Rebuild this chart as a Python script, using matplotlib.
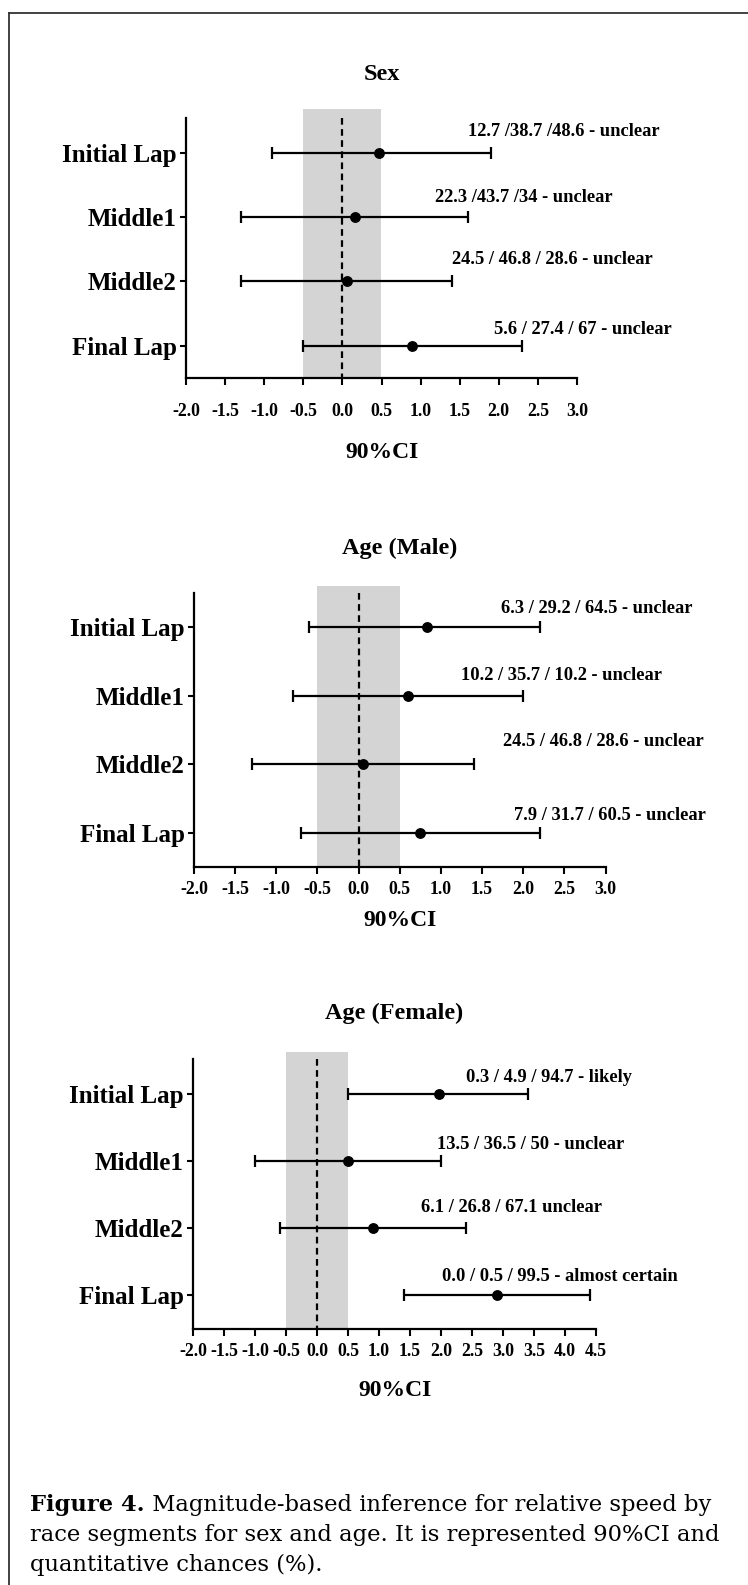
import matplotlib
matplotlib.use('Agg')
import matplotlib.pyplot as plt
from matplotlib.lines import Line2D

###############################################################################
# Data
###############################################################################

segments = ['Initial Lap', 'Middle1', 'Middle2', 'Final Lap']

sex_mean = [0.47, 0.16, 0.06, 0.89]
sex_low = [-0.9, -1.3, -1.3, -0.5]
sex_high = [1.9, 1.6, 1.4, 2.3]
sex_chances = ['12.7 /38.7 /48.6 - unclear', '22.3 /43.7 /34 - unclear',
               '24.5 / 46.8 / 28.6 - unclear', '5.6 / 27.4 / 67 - unclear']

male_mean = [0.83, 0.6, 0.05, 0.74]
male_low = [-0.6, -0.8, -1.3, -0.7]
male_high = [2.2, 2.0, 1.4, 2.2]
male_chances = ['6.3 / 29.2 / 64.5 - unclear', '10.2 / 35.7 / 10.2 - unclear',
                '24.5 / 46.8 / 28.6 - unclear', '7.9 / 31.7 / 60.5 - unclear']

female_mean = [1.96, 0.5, 0.9, 2.9]
female_low = [0.5, -1.0, -0.6, 1.4]
female_high = [3.4, 2.0, 2.4, 4.4]
female_chances = ['0.3 / 4.9 / 94.7 - likely', '13.5 / 36.5 / 50 - unclear',
                  '6.1 / 26.8 / 67.1 unclear', '0.0 / 0.5 / 99.5 - almost certain']

ticks_to3 = ['-2.0', '-1.5', '-1.0', '-0.5', '0.0', '0.5', '1.0', '1.5',
             '2.0', '2.5', '3.0']
ticks_to45 = ticks_to3 + ['3.5', '4.0', '4.5']

caption_bold = 'Figure 4.'
caption_lines = [' Magnitude-based inference for relative speed by',
                 'race segments for sex and age. It is represented 90%CI and',
                 'quantitative chances (%).']

###############################################################################
# Layout (pixels in the 748 x 1585 output)
###############################################################################

W, H = 748, 1585
plt.rcParams['font.family'] = 'Liberation Serif'


def fx(px):
    return px / W


def fy(py):
    return 1 - py / H


panels = [
    dict(title='Sex', mean=sex_mean, low=sex_low, high=sex_high,
         chances=sex_chances, ticks=ticks_to3,
         x0=186, x1=577, bottom=378, top=109, ytop=-0.68, spine_top=-0.54,
         title_y=75, xlabel_y=453, tick_pad=13,
         lab_x=[2.83, 2.32, 2.69, 3.07], lab_dy=[0.33, 0.31, 0.34, 0.25]),
    dict(title='Age (Male)', mean=male_mean, low=male_low, high=male_high,
         chances=male_chances, ticks=ticks_to3,
         x0=194, x1=605.5, bottom=866.7, top=585.7, ytop=-0.61, spine_top=-0.51,
         title_y=548, xlabel_y=920, tick_pad=5,
         lab_x=[2.89, 2.47, 2.98, 3.05], lab_dy=[0.27, 0.30, 0.33, 0.25]),
    dict(title='Age (Female)', mean=female_mean, low=female_low, high=female_high,
         chances=female_chances, ticks=ticks_to45,
         x0=193, x1=596, bottom=1329, top=1051.7, ytop=-0.63, spine_top=-0.52,
         title_y=1013, xlabel_y=1390, tick_pad=5,
         lab_x=[3.75, 3.44, 3.13, 3.92], lab_dy=[0.25, 0.25, 0.31, 0.28]),
]

fig = plt.figure(figsize=(W / 100, H / 100), dpi=100)

for p in panels:
    ax = fig.add_axes([fx(p['x0']), fy(p['bottom']),
                       (p['x1'] - p['x0']) / W, (p['bottom'] - p['top']) / H])
    ypos = list(range(len(segments)))
    tick_vals = [float(t) for t in p['ticks']]

    # trivial range band and zero line
    ax.axvspan(-0.5, 0.5, color='#d4d4d4', lw=0, zorder=0)
    ax.vlines(0, p['spine_top'], 3.5, colors='black', linewidth=1.6,
              linestyles=(0, (3, 2)), zorder=1)

    xerr = [[m - l for m, l in zip(p['mean'], p['low'])],
            [h - m for m, h in zip(p['mean'], p['high'])]]
    ax.errorbar(p['mean'], ypos, xerr=xerr, fmt='o', color='black', ms=6.8,
                elinewidth=1.6, capsize=4, capthick=1.6, zorder=3)

    for i, txt in enumerate(p['chances']):
        ax.text(p['lab_x'][i], ypos[i] - p['lab_dy'][i], txt, ha='center',
                va='center', fontsize=13.3, fontweight='bold', clip_on=False)

    ax.set_xlim(tick_vals[0], tick_vals[-1])
    ax.set_ylim(3.5, p['ytop'])
    ax.set_xticks(tick_vals)
    ax.set_xticklabels(p['ticks'], fontsize=12.8, fontweight='bold')
    ax.set_yticks(ypos)
    ax.set_yticklabels(segments, fontsize=18, fontweight='bold')
    ax.tick_params(axis='x', direction='out', length=5, width=1.5,
                   pad=p['tick_pad'])
    ax.tick_params(axis='y', direction='out', length=4.5, width=1.5, pad=2)

    for side in ['top', 'right']:
        ax.spines[side].set_visible(False)
    for side in ['left', 'bottom']:
        ax.spines[side].set_linewidth(1.6)
    ax.spines['left'].set_bounds(p['spine_top'], 3.5)

    xc = (p['x0'] + p['x1']) / 2
    fig.text(fx(xc), fy(p['title_y']), p['title'], ha='center', va='center',
             fontsize=17.5, fontweight='bold')
    fig.text(fx(xc), fy(p['xlabel_y']), '90%CI', ha='center', va='center',
             fontsize=17, fontweight='bold')

# frame lines (top and left)
fig.add_artist(Line2D([fx(8.7), 1.0], [fy(13), fy(13)], color='#333333',
                      lw=1.3, transform=fig.transFigure))
fig.add_artist(Line2D([fx(8.7), fx(8.7)], [fy(13), 0.0], color='#333333',
                      lw=1.3, transform=fig.transFigure))

# caption
cap_font = 'DejaVu Serif'
cap_size = 16.3
baselines = [1511, 1541, 1571.5]
tb = fig.text(fx(30), fy(baselines[0]), caption_bold, ha='left',
              va='baseline', fontsize=cap_size, fontweight='bold',
              family=cap_font)
renderer = fig.canvas.get_renderer()
bb = tb.get_window_extent(renderer)
fig.text(bb.x1 / W, fy(baselines[0]), caption_lines[0], ha='left',
         va='baseline', fontsize=cap_size, family=cap_font)
for line, by in zip(caption_lines[1:], baselines[1:]):
    fig.text(fx(30), fy(by), line, ha='left', va='baseline',
             fontsize=cap_size, family=cap_font)

fig.savefig('out.png', dpi=100)
